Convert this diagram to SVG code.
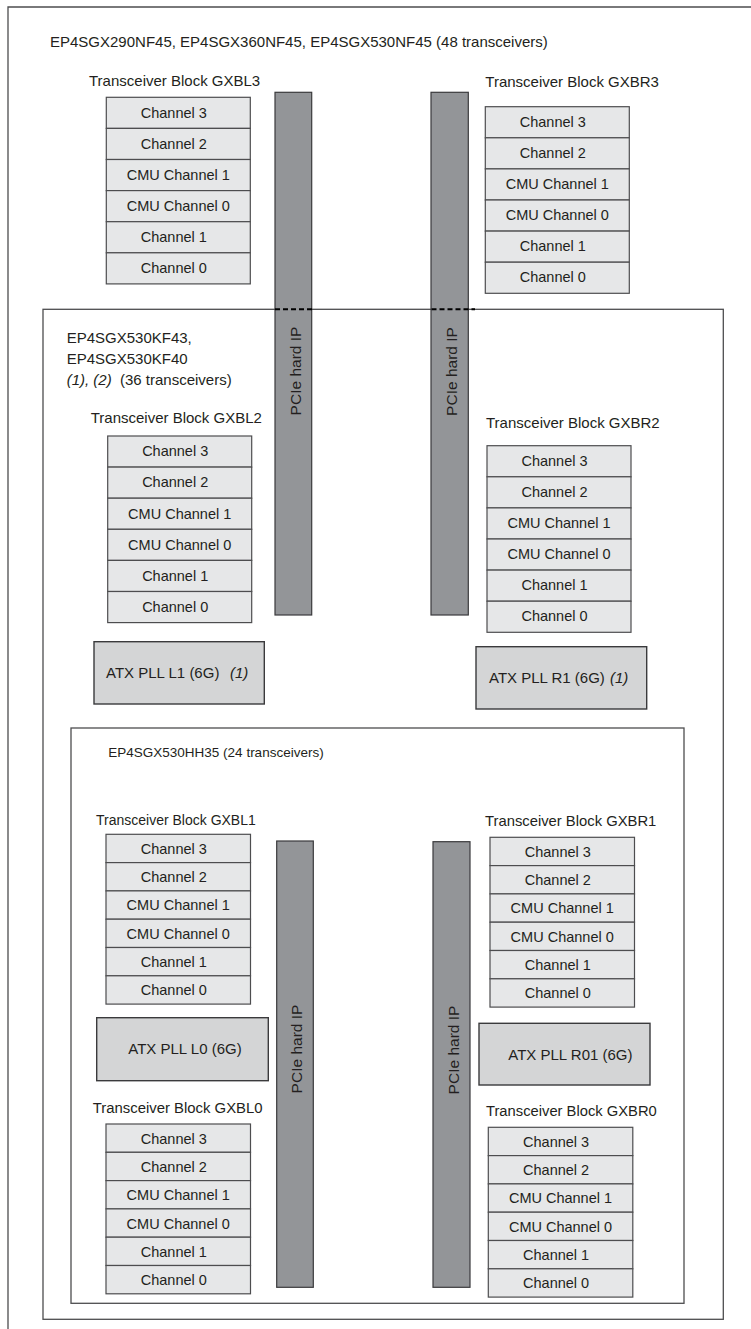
<svg xmlns="http://www.w3.org/2000/svg" width="751" height="1329" viewBox="0 0 751 1329">
<style>
text{font-family:"Liberation Sans",Arial,sans-serif;fill:#231f20}
.frame{fill:none;stroke:#4d4d4f;stroke-width:1.3}
.ch{fill:#e6e7e8;stroke:#4d4d4f;stroke-width:1.2}
.atx{fill:#d4d5d6;stroke:#3a3a3c;stroke-width:1.4}
.bar{fill:#939598;stroke:#3a3a3c;stroke-width:1.2}
.cl{font-size:14.5px;text-anchor:middle}
.lbl{font-size:15px}
.pcie{font-size:15.5px;text-anchor:middle}
.it{font-style:italic}
.dash{stroke:#000;stroke-width:2;stroke-dasharray:5,3;fill:none}
</style>
<defs>
<g id="stackT">
<rect class="ch" x="0" y="0" width="144" height="31.1"/>
<rect class="ch" x="0" y="31.1" width="144" height="31.1"/>
<rect class="ch" x="0" y="62.2" width="144" height="31.1"/>
<rect class="ch" x="0" y="93.3" width="144" height="31.1"/>
<rect class="ch" x="0" y="124.4" width="144" height="31.1"/>
<rect class="ch" x="0" y="155.5" width="144" height="31.1"/>
<text class="cl" x="67.5" y="20.3">Channel 3</text>
<text class="cl" x="67.5" y="51.4">Channel 2</text>
<text class="cl" x="72" y="82.5">CMU Channel 1</text>
<text class="cl" x="72" y="113.6">CMU Channel 0</text>
<text class="cl" x="67.5" y="144.7">Channel 1</text>
<text class="cl" x="67.5" y="175.8">Channel 0</text>
</g>
<g id="stackB">
<rect class="ch" x="0" y="0" width="144.5" height="28.3"/>
<rect class="ch" x="0" y="28.3" width="144.5" height="28.3"/>
<rect class="ch" x="0" y="56.6" width="144.5" height="28.3"/>
<rect class="ch" x="0" y="84.9" width="144.5" height="28.3"/>
<rect class="ch" x="0" y="113.2" width="144.5" height="28.3"/>
<rect class="ch" x="0" y="141.5" width="144.5" height="28.3"/>
<text class="cl" x="67.8" y="19.6">Channel 3</text>
<text class="cl" x="67.8" y="47.9">Channel 2</text>
<text class="cl" x="72.2" y="76.2">CMU Channel 1</text>
<text class="cl" x="72.2" y="104.5">CMU Channel 0</text>
<text class="cl" x="67.8" y="132.8">Channel 1</text>
<text class="cl" x="67.8" y="161.1">Channel 0</text>
</g>
</defs>

<g id="frames">
<path class="frame" d="M751,7 H8 V1329"/>
<rect class="frame" x="43" y="309.3" width="680.3" height="1010"/>
<rect class="frame" x="71" y="728" width="613" height="575.3"/>
</g>

<g id="labels">
<text class="lbl" x="50" y="47">EP4SGX290NF45, EP4SGX360NF45, EP4SGX530NF45 (48 transceivers)</text>
<text class="lbl" x="66.7" y="343">EP4SGX530KF43,</text>
<text class="lbl" x="66.7" y="364">EP4SGX530KF40</text>
<text class="lbl" x="66.7" y="385"><tspan class="it">(1), (2)</tspan><tspan x="120">(36 transceivers)</tspan></text>
<text x="108.3" y="757" style="font-size:13.5px">EP4SGX530HH35 (24 transceivers)</text>
</g>

<g id="gxbl3">
<text class="lbl" x="89" y="85.5">Transceiver Block GXBL3</text>
<use href="#stackT" transform="translate(106.3,97.3)"/>
</g>
<g id="gxbr3">
<text class="lbl" x="485.3" y="86.5">Transceiver Block GXBR3</text>
<use href="#stackT" transform="translate(485.3,106.7)"/>
</g>
<g id="gxbl2">
<text class="lbl" x="90.7" y="422.5">Transceiver Block GXBL2</text>
<use href="#stackT" transform="translate(107.7,436)"/>
</g>
<g id="gxbr2">
<text class="lbl" x="486" y="428">Transceiver Block GXBR2</text>
<use href="#stackT" transform="translate(487,445.7)"/>
</g>
<g id="gxbl1">
<text x="96" y="825" style="font-size:14px">Transceiver Block GXBL1</text>
<use href="#stackB" transform="translate(106,834.3)"/>
</g>
<g id="gxbr1">
<text x="485" y="826" style="font-size:14.8px">Transceiver Block GXBR1</text>
<use href="#stackB" transform="translate(490,837.3)"/>
</g>
<g id="gxbl0">
<text x="92.7" y="1112.5" style="font-size:14.9px">Transceiver Block GXBL0</text>
<use href="#stackB" transform="translate(106,1124)"/>
</g>
<g id="gxbr0">
<text x="486" y="1116" style="font-size:14.75px">Transceiver Block GXBR0</text>
<use href="#stackB" transform="translate(488.3,1127.3)"/>
</g>

<g id="atx-l1">
<rect class="atx" x="94" y="641.7" width="170.3" height="62.3"/>
<text class="lbl" x="106" y="677.5">ATX PLL L1 (6G)<tspan class="it" x="230">(1)</tspan></text>
</g>
<g id="atx-r1">
<rect class="atx" x="476" y="646.7" width="170.7" height="62.3"/>
<text class="lbl" x="489" y="682.5">ATX PLL R1 (6G)<tspan class="it" x="610">(1)</tspan></text>
</g>
<g id="atx-l0">
<rect class="atx" x="96.7" y="1017.7" width="171.6" height="63"/>
<text class="lbl" x="128.3" y="1054">ATX PLL L0 (6G)</text>
</g>
<g id="atx-r01">
<rect class="atx" x="479" y="1023.3" width="171" height="61.7"/>
<text class="lbl" x="508.3" y="1060">ATX PLL R01 (6G)</text>
</g>

<g id="pcie-top-left">
<rect class="bar" x="275" y="92.3" width="36.7" height="522.7"/>
<text class="pcie" transform="translate(300.5,371) rotate(-90)">PCIe hard IP</text>
</g>
<g id="pcie-top-right">
<rect class="bar" x="431" y="92.3" width="37.3" height="522.7"/>
<text class="pcie" transform="translate(457,371.5) rotate(-90)">PCIe hard IP</text>
</g>
<g id="pcie-bottom-left">
<rect class="bar" x="276.7" y="841" width="36.6" height="446.3"/>
<text class="pcie" transform="translate(301.7,1049) rotate(-90)">PCIe hard IP</text>
</g>
<g id="pcie-bottom-right">
<rect class="bar" x="433" y="841.7" width="37" height="445.6"/>
<text class="pcie" transform="translate(458.5,1050) rotate(-90)">PCIe hard IP</text>
</g>

<g id="connectors">
<path class="dash" d="M275,309.3 H315"/>
<path class="dash" d="M431.5,309.3 H475"/>
</g>
</svg>
